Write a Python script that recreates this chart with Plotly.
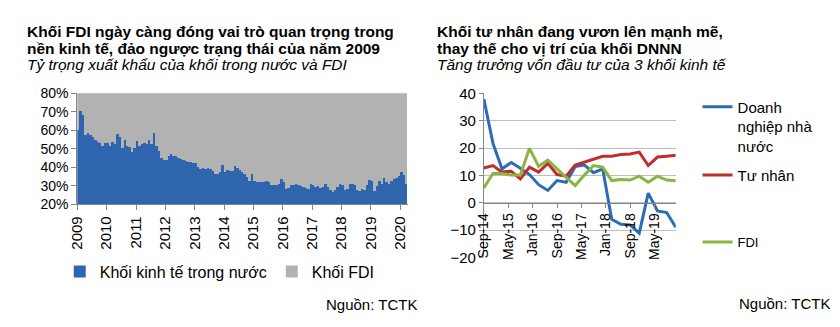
import plotly.graph_objects as go

W, H = 840, 327

# ---------------- Left chart data (monthly, Jan 2009 - Mar 2020) ----------------
years = [str(y) for y in range(2009, 2021)]
domestic_share = [
    # 2009
    60, 70.5, 68, 57.5, 58.5, 57.3, 56.2, 54.5, 53.5, 53.2, 51.2, 53,
    # 2010
    53, 51.3, 53.3, 52.6, 58, 56, 50.5, 54.4, 51.6, 50.9, 48.2, 50.4,
    # 2011
    53.8, 51.6, 52.6, 53, 52.6, 54.4, 52.6, 58.1, 51.5, 48.5, 45, 44,
    # 2012
    43.5, 46, 47, 46, 45.8, 45, 44.5, 43.5, 43, 42.7, 42.5, 42.2,
    # 2013
    42, 40, 39, 39.3, 38.8, 39.3, 39, 38, 36, 36.3, 37.3, 41.2,
    # 2014
    37, 38.3, 37.8, 38, 40.6, 39.5, 38.5, 37.3, 36.2, 34.5, 32.6, 36.1,
    # 2015
    32.4, 32, 31.8, 31.6, 32, 32.6, 31.8, 30.5, 30.2, 30, 30.6, 33.6,
    # 2016
    31.8, 28, 28.8, 30.4, 30.4, 30.6, 30.4, 29.8, 29, 28.6, 28, 30.6,
    # 2017
    30.4, 29.4, 29.9, 28.7, 29.2, 30.8, 29.1, 27.7, 26.5, 27.5, 29.1, 30.6,
    # 2018
    30.4, 27.4, 28.2, 30.6, 31, 30, 27.7, 27, 28.2, 27.8, 30, 33.2,
    # 2019
    32.5, 27, 29.9, 32.5, 30.8, 33.8, 31.6, 30.8, 32.2, 33.3, 34.2, 35,
    # 2020
    37, 35.5, 30.8,
]
fdi_share = [100 - v for v in domestic_share]   # shares of total exports sum to 100%
month_index = list(range(len(domestic_share)))
year_tick_pos = [12 * k - 0.5 for k in range(len(years))]

# ---------------- Right chart data (quarterly, Sep 2014 - Dec 2019) ----------------
quarters = [
    "2014-09-01", "2014-12-01", "2015-03-01", "2015-06-01", "2015-09-01", "2015-12-01",
    "2016-03-01", "2016-06-01", "2016-09-01", "2016-12-01", "2017-03-01", "2017-06-01",
    "2017-09-01", "2017-12-01", "2018-03-01", "2018-06-01", "2018-09-01", "2018-12-01",
    "2019-03-01", "2019-06-01", "2019-09-01", "2019-12-01",
]
soe_growth = [37.9, 21.7, 12.4, 14.7, 12.6, 10.3, 6.6, 4.5, 8.1, 7.5, 13.2, 13.8,
              11.0, 12.4, -6.1, -7.9, -8.1, -11.1, 3.5, -3.0, -3.6, -9.0]
private_growth = [12.7, 13.6, 11.2, 11.5, 8.7, 13.0, 11.2, 14.4, 10.3, 9.7, 13.8, 14.9,
                  16.1, 17.0, 17.0, 17.6, 17.8, 18.5, 13.6, 16.7, 17.0, 17.4]
fdi_growth = [5.4, 10.7, 10.7, 10.1, 10.1, 19.9, 13.3, 15.6, 12.4, 9.5, 6.3, 10.1,
              13.6, 13.0, 8.1, 8.5, 8.3, 9.7, 7.5, 9.7, 8.3, 8.0]
right_ticks = ["2014-09-01", "2015-05-01", "2016-01-01", "2016-09-01",
               "2017-05-01", "2018-01-01", "2018-09-01", "2019-05-01"]

FONT = "Liberation Sans, Arial, sans-serif"
BLUE_BAR = "#2F65AF"
GREY_BAR = "#B2B2B2"
C_SOE = "#2C6CB4"
C_PRI = "#BE2E2B"
C_FDI = "#8BB540"
AXIS = "#868686"
GRID = "#BEBEBE"

def px_x(x):
    return x / W

def px_y(y):
    return 1 - y / H

fig = go.Figure()

fig.add_trace(go.Bar(x=month_index, y=domestic_share, name="Khối kinh tế trong nước",
                     marker=dict(color=BLUE_BAR, line=dict(width=0)),
                     xaxis="x", yaxis="y", legend="legend"))
fig.add_trace(go.Bar(x=month_index, y=fdi_share, name="Khối FDI",
                     marker=dict(color=GREY_BAR, line=dict(width=0)),
                     xaxis="x", yaxis="y", legend="legend"))

fig.add_trace(go.Scatter(x=quarters, y=soe_growth, mode="lines",
                         name="Doanh<br>nghiệp nhà<br>nước",
                         line=dict(color=C_SOE, width=3), xaxis="x2", yaxis="y2",
                         legend="legend2"))
fig.add_trace(go.Scatter(x=quarters, y=private_growth, mode="lines", name="Tư nhân",
                         line=dict(color=C_PRI, width=3), xaxis="x2", yaxis="y2",
                         legend="legend3"))
fig.add_trace(go.Scatter(x=quarters, y=fdi_growth, mode="lines", name="FDI",
                         line=dict(color=C_FDI, width=3), xaxis="x2", yaxis="y2",
                         legend="legend4"))

# domains
lx0, lx1 = px_x(69), px_x(403)
ly0, ly1 = px_y(206), px_y(89)
rx0, rx1 = px_x(480), px_x(674)
ry0, ry1 = px_y(262), px_y(89)
y2_range = [-20, 40]
zero_pos = ry0 + (0 - y2_range[0]) / (y2_range[1] - y2_range[0]) * (ry1 - ry0)

fig.update_layout(
    width=W, height=H,
    margin=dict(l=0, r=0, t=0, b=0),
    paper_bgcolor="white", plot_bgcolor="white",
    font=dict(family=FONT, color="#000000", size=14),
    barmode="stack", bargap=0,
    xaxis=dict(domain=[lx0, lx1], anchor="y", range=[-0.5, len(domestic_share) - 0.5],
               tickmode="array", tickvals=year_tick_pos, ticktext=years, tickangle=-90,
               ticks="outside", ticklen=5, tickcolor=AXIS, showline=True, linecolor=AXIS,
               showgrid=False, zeroline=False, tickfont=dict(size=15)),
    yaxis=dict(domain=[ly0, ly1], anchor="x", range=[20, 80], dtick=10, ticksuffix="%",
               ticks="outside", ticklen=5, tickcolor=AXIS, showline=True, linecolor=AXIS,
               showgrid=False, zeroline=False, tickfont=dict(size=14)),
    xaxis2=dict(domain=[rx0, rx1], anchor="free", position=zero_pos, type="date",
                range=[quarters[0], quarters[-1]], tickmode="array", tickvals=right_ticks,
                tickformat="%b-%y", tickangle=-90, ticks="outside", ticklen=4,
                tickcolor=AXIS, showline=True, linecolor=AXIS, showgrid=False,
                zeroline=False, tickfont=dict(size=14)),
    yaxis2=dict(domain=[ry0, ry1], anchor="x2", range=y2_range, dtick=10,
                ticks="outside", ticklen=4, tickcolor=AXIS, showline=True, linecolor=AXIS,
                showgrid=True, gridcolor=GRID, zeroline=False, tickfont=dict(size=15)),
    legend=dict(orientation="h", traceorder="normal", x=px_x(213), xanchor="center",
                y=px_y(277), yanchor="middle", font=dict(size=16),
                bgcolor="rgba(0,0,0,0)"),
    legend2=dict(x=px_x(696), xanchor="left", y=px_y(86), yanchor="top", valign="top",
                 font=dict(size=15), bgcolor="rgba(0,0,0,0)"),
    legend3=dict(x=px_x(696), xanchor="left", y=px_y(158), yanchor="top",
                 font=dict(size=15), bgcolor="rgba(0,0,0,0)"),
    legend4=dict(x=px_x(696), xanchor="left", y=px_y(230), yanchor="top",
                 font=dict(size=13), bgcolor="rgba(0,0,0,0)"),
)

def note(text, x, y, size, bold=False, italic=False, xanchor="left"):
    if bold:
        text = "<b>" + text + "</b>"
    if italic:
        text = "<i>" + text + "</i>"
    fig.add_annotation(text=text, x=px_x(x), y=px_y(y), xref="paper", yref="paper",
                       xanchor=xanchor, yanchor="middle", showarrow=False, borderpad=0,
                       font=dict(size=size, family=FONT, color="#000000"))

note("Khối FDI ngày càng đóng vai trò quan trọng trong", 17, 23.5, 15.5, bold=True)
note("nền kinh tế, đảo ngược trạng thái của năm 2009", 17, 41.5, 15.5, bold=True)
note("Tỷ trọng xuất khẩu của khối trong nước và FDI", 17, 58.5, 15.5, italic=True)
note("Khối tư nhân đang vươn lên mạnh mẽ,", 432, 23.5, 15.5, bold=True)
note("thay thế cho vị trí của khối DNNN", 432, 41.5, 15.5, bold=True)
note("Tăng trưởng vốn đầu tư của 3 khối kinh tế", 432, 58.5, 15.5, italic=True)
note("Nguồn: TCTK", 413, 312, 15, xanchor="right")
note("Nguồn: TCTK", 831, 311, 15, xanchor="right")

fig.write_html("out.html")
